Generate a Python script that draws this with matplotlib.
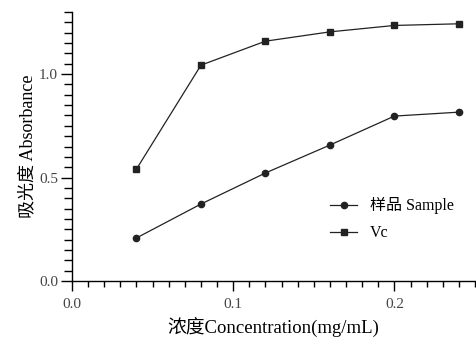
import matplotlib.pyplot as plt
from matplotlib.ticker import MultipleLocator

plt.rcParams['font.family'] = ['Liberation Serif', 'Noto Sans CJK SC']

# 数据
conc = [0.04, 0.08, 0.12, 0.16, 0.20, 0.24]
sample = [0.208, 0.372, 0.522, 0.657, 0.797, 0.816]
vc = [0.541, 1.043, 1.159, 1.204, 1.235, 1.243]

fig = plt.figure(figsize=(4.76, 3.38), dpi=100)
ax = fig.add_axes([72 / 476, 57 / 338, 403 / 476, 269 / 338])

ax.plot(conc, sample, color='#222222', lw=0.9, marker='o', ms=4.5,
        label='样品 Sample')
ax.plot(conc, vc, color='#222222', lw=0.9, marker='s', ms=4.5,
        label='Vc')

ax.set_xlim(0, 0.25)
ax.set_ylim(0, 1.3)
ax.xaxis.set_major_locator(MultipleLocator(0.1))
ax.xaxis.set_minor_locator(MultipleLocator(0.01))
ax.yaxis.set_major_locator(MultipleLocator(0.5))
ax.yaxis.set_minor_locator(MultipleLocator(0.05))
ax.xaxis.set_major_formatter(lambda v, p: f'{v:.1f}')
ax.yaxis.set_major_formatter(lambda v, p: f'{v:.1f}')

for s in ('top', 'right'):
    ax.spines[s].set_visible(False)
for s in ('left', 'bottom'):
    ax.spines[s].set_linewidth(1.0)

ax.tick_params(axis='x', which='major', length=7, width=1, pad=5, labelsize=11,
               labelcolor='#444444')
ax.tick_params(axis='x', which='minor', length=4, width=1)
ax.tick_params(axis='y', which='major', length=8, width=1, pad=2, labelsize=11,
               labelcolor='#444444')
ax.tick_params(axis='y', which='minor', length=6, width=1)

ax.set_xlabel('浓度Concentration(mg/mL)', fontsize=13.5, labelpad=5)
ax.set_ylabel('吸光度 Absorbance', fontsize=13, labelpad=2)

ax.legend(loc='upper left', bbox_to_anchor=(0.605, 0.365), frameon=False,
          fontsize=11.5, handlelength=1.7, labelspacing=0.7)

fig.savefig('out.png', dpi=100)
